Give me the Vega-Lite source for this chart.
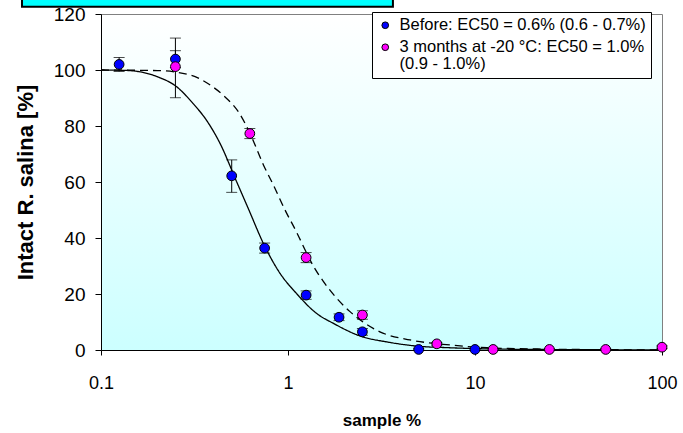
{
  "$schema": "https://vega.github.io/schema/vega-lite/v6.json",
  "autosize": {"type": "none"},
  "padding": {"left": 101, "top": 14, "right": 21, "bottom": 83},
  "width": 561,
  "height": 336,
  "background": "white",
  "config": {
    "font": "Liberation Sans",
    "view": {
      "stroke": "#808080",
      "strokeWidth": 1,
      "fill": {"gradient": "linear", "x1": 0, "y1": 0, "x2": 0, "y2": 1, "stops": [{"offset": 0, "color": "#ffffff"}, {"offset": 1, "color": "#ccffff"}]}
    },
    "style": {"guide-label": {"lineHeight": 17}},
    "axis": {
      "grid": false,
      "domainColor": "black",
      "tickColor": "black",
      "labelColor": "black",
      "titleColor": "black",
      "labelFont": "Liberation Sans",
      "titleFont": "Liberation Sans",
      "labelFontSize": 18,
      "titleFontSize": 17,
      "titleFontWeight": "bold",
      "labelFlush": false
    }
  },
  "datasets": {
    "points": [
      {"series": "Before: EC50 = 0.6% (0.6 - 0.7%)", "x": 0.125, "y": 102.0, "lo": 99.5, "hi": 104.5},
      {"series": "Before: EC50 = 0.6% (0.6 - 0.7%)", "x": 0.25, "y": 103.9, "lo": 100.9, "hi": 106.9},
      {"series": "Before: EC50 = 0.6% (0.6 - 0.7%)", "x": 0.5, "y": 62.2, "lo": 56.3, "hi": 67.9},
      {"series": "Before: EC50 = 0.6% (0.6 - 0.7%)", "x": 0.75, "y": 36.4, "lo": 34.6, "hi": 38.2},
      {"series": "Before: EC50 = 0.6% (0.6 - 0.7%)", "x": 1.25, "y": 19.6, "lo": 18.1, "hi": 21.1},
      {"series": "Before: EC50 = 0.6% (0.6 - 0.7%)", "x": 1.875, "y": 11.7, "lo": 10.5, "hi": 12.9},
      {"series": "Before: EC50 = 0.6% (0.6 - 0.7%)", "x": 2.5, "y": 6.5, "lo": 5.3, "hi": 7.7},
      {"series": "Before: EC50 = 0.6% (0.6 - 0.7%)", "x": 5, "y": 0.2, "lo": 0, "hi": 0.5},
      {"series": "Before: EC50 = 0.6% (0.6 - 0.7%)", "x": 10, "y": 0.2, "lo": 0, "hi": 0.5},
      {"series": "3 months at -20 °C: EC50 = 1.0% (0.9 - 1.0%)", "x": 0.25, "y": 101.2, "lo": 90.1, "hi": 111.4},
      {"series": "3 months at -20 °C: EC50 = 1.0% (0.9 - 1.0%)", "x": 0.625, "y": 77.3, "lo": 75.5, "hi": 79.1},
      {"series": "3 months at -20 °C: EC50 = 1.0% (0.9 - 1.0%)", "x": 1.25, "y": 33.0, "lo": 31.2, "hi": 34.8},
      {"series": "3 months at -20 °C: EC50 = 1.0% (0.9 - 1.0%)", "x": 2.5, "y": 12.5, "lo": 11.0, "hi": 14.0},
      {"series": "3 months at -20 °C: EC50 = 1.0% (0.9 - 1.0%)", "x": 6.25, "y": 2.2, "lo": 1.7, "hi": 2.7},
      {"series": "3 months at -20 °C: EC50 = 1.0% (0.9 - 1.0%)", "x": 12.5, "y": 0.2, "lo": 0, "hi": 0.5},
      {"series": "3 months at -20 °C: EC50 = 1.0% (0.9 - 1.0%)", "x": 25, "y": 0.2, "lo": 0, "hi": 0.5},
      {"series": "3 months at -20 °C: EC50 = 1.0% (0.9 - 1.0%)", "x": 50, "y": 0.2, "lo": 0, "hi": 0.5},
      {"series": "3 months at -20 °C: EC50 = 1.0% (0.9 - 1.0%)", "x": 100, "y": 1.0, "lo": 0.5, "hi": 1.5}
    ],
    "curves": [
      {"curve": "before", "x": 0.1, "y": 100},
      {"curve": "before", "x": 0.13, "y": 99.9},
      {"curve": "before", "x": 0.16, "y": 99.4},
      {"curve": "before", "x": 0.2, "y": 97.6},
      {"curve": "before", "x": 0.254, "y": 94},
      {"curve": "before", "x": 0.31, "y": 88.1},
      {"curve": "before", "x": 0.367, "y": 82},
      {"curve": "before", "x": 0.433, "y": 73.8},
      {"curve": "before", "x": 0.532, "y": 60},
      {"curve": "before", "x": 0.618, "y": 50},
      {"curve": "before", "x": 0.738, "y": 38.1},
      {"curve": "before", "x": 0.906, "y": 27.4},
      {"curve": "before", "x": 1.11, "y": 20.2},
      {"curve": "before", "x": 1.42, "y": 13.1},
      {"curve": "before", "x": 1.75, "y": 9.5},
      {"curve": "before", "x": 2.48, "y": 4.8},
      {"curve": "before", "x": 3.37, "y": 2.9},
      {"curve": "before", "x": 4.88, "y": 1.4},
      {"curve": "before", "x": 7.35, "y": 0.8},
      {"curve": "before", "x": 10, "y": 0.5},
      {"curve": "before", "x": 20, "y": 0.2},
      {"curve": "before", "x": 50, "y": 0.1},
      {"curve": "before", "x": 100, "y": 0},
      {"curve": "after", "x": 0.1, "y": 100},
      {"curve": "after", "x": 0.2, "y": 99.8},
      {"curve": "after", "x": 0.3, "y": 98.2},
      {"curve": "after", "x": 0.38, "y": 94.8},
      {"curve": "after", "x": 0.45, "y": 91},
      {"curve": "after", "x": 0.55, "y": 84.5},
      {"curve": "after", "x": 0.626, "y": 77.4},
      {"curve": "after", "x": 0.74, "y": 66},
      {"curve": "after", "x": 0.834, "y": 59},
      {"curve": "after", "x": 0.964, "y": 50},
      {"curve": "after", "x": 1.113, "y": 42},
      {"curve": "after", "x": 1.25, "y": 35},
      {"curve": "after", "x": 1.366, "y": 30},
      {"curve": "after", "x": 1.545, "y": 24.5},
      {"curve": "after", "x": 1.82, "y": 18.5},
      {"curve": "after", "x": 2.146, "y": 13.7},
      {"curve": "after", "x": 3.1, "y": 6.5},
      {"curve": "after", "x": 4.49, "y": 3.6},
      {"curve": "after", "x": 7.35, "y": 1.8},
      {"curve": "after", "x": 11.6, "y": 0.8},
      {"curve": "after", "x": 25, "y": 0.3},
      {"curve": "after", "x": 50, "y": 0.1},
      {"curve": "after", "x": 100, "y": 0}
    ],
    "titlebox": [
      {"x0": 0.0378, "x1": 3.64, "y0": 122.6, "y1": 132}
    ]
  },
  "encoding": {
    "x": {
      "field": "x", "type": "quantitative",
      "scale": {"type": "log", "domain": [0.1, 100], "nice": false},
      "axis": {"values": [0.1, 1, 10, 100], "format": "~g", "title": "sample %", "tickSize": 5, "labelPadding": 19, "titlePadding": 20}
    },
    "y": {
      "field": "y", "type": "quantitative",
      "scale": {"domain": [0, 120], "nice": false},
      "axis": {"values": [0, 20, 40, 60, 80, 100, 120], "title": "Intact R. salina [%]", "tickSize": 6, "labelPadding": 10, "labelFontSize": 19, "titleFontSize": 22, "titlePadding": 16}
    }
  },
  "layer": [
    {
      "data": {"name": "titlebox"},
      "mark": {"type": "rect", "fill": "#00ffff", "stroke": "black", "strokeWidth": 2, "clip": false},
      "encoding": {
        "x": {"field": "x0", "type": "quantitative"},
        "x2": {"field": "x1"},
        "y": {"field": "y0", "type": "quantitative"},
        "y2": {"field": "y1"}
      }
    },
    {
      "data": {"name": "curves"},
      "mark": {"type": "line", "color": "black", "strokeWidth": 1.3, "interpolate": "monotone"},
      "encoding": {
        "detail": {"field": "curve"},
        "strokeDash": {
          "field": "curve", "type": "nominal",
          "scale": {"domain": ["before", "after"], "range": [[1, 0], [8, 5]]},
          "legend": null
        }
      }
    },
    {
      "data": {"name": "points"},
      "mark": {"type": "rule", "color": "black", "strokeWidth": 1},
      "encoding": {
        "y": {"field": "lo", "type": "quantitative"},
        "y2": {"field": "hi"}
      }
    },
    {
      "data": {"name": "points"},
      "mark": {"type": "tick", "orient": "horizontal", "color": "black", "size": 11, "thickness": 1},
      "encoding": {"y": {"field": "lo", "type": "quantitative"}}
    },
    {
      "data": {"name": "points"},
      "mark": {"type": "tick", "orient": "horizontal", "color": "black", "size": 11, "thickness": 1},
      "encoding": {"y": {"field": "hi", "type": "quantitative"}}
    },
    {
      "data": {"name": "points"},
      "mark": {"type": "circle", "size": 95, "stroke": "black", "strokeWidth": 1, "opacity": 1},
      "encoding": {
        "color": {
          "field": "series", "type": "nominal",
          "scale": {"domain": ["Before: EC50 = 0.6% (0.6 - 0.7%)", "3 months at -20 °C: EC50 = 1.0% (0.9 - 1.0%)"], "range": ["#0000ff", "#ff00ff"]},
          "legend": {
            "orient": "none", "legendX": 271, "legendY": -2,
            "title": null,
            "fillColor": "white", "strokeColor": "black",
            "padding": 5,
            "symbolType": "circle", "symbolSize": 45, "symbolStrokeColor": "black", "symbolStrokeWidth": 1,
            "labelFont": "Liberation Sans", "labelFontSize": 16.5, "labelColor": "black", "labelLimit": 400,
            "labelOffset": 6, "rowPadding": 5,
            "labelExpr": "datum.label == 'Before: EC50 = 0.6% (0.6 - 0.7%)' ? datum.label : ['3 months at -20 °C: EC50 = 1.0%', '(0.9 - 1.0%)']"
          }
        }
      }
    }
  ]
}
